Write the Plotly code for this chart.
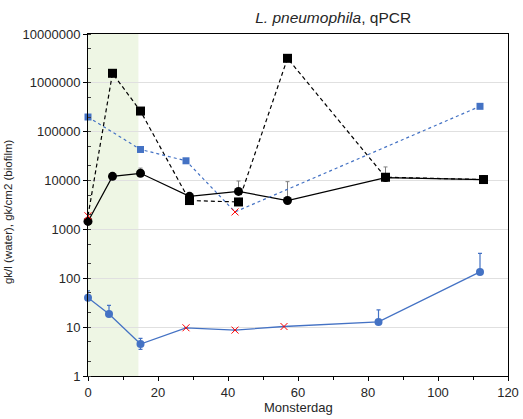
import plotly.graph_objects as go

# ---- data ----
# black solid (circles)
days_bk_c = [0, 7, 15, 29, 43, 57, 85, 113]
vals_bk_c = [1460, 12200, 14100, 4760, 6000, 3900, 11500, 10500]
err_bk_c = [0, 0, 3900, 0, 3800, 5600, 7500, 0]
# black dashed (squares)
days_bk_s = [0, 7, 15, 29, 43, 57, 85, 113]
vals_bk_s = [1900, 1570000, 265000, 3900, 3650, 3180000, 11700, 10500]
below_bk_s = [True, False, False, False, False, False, False, False]
# blue dashed (squares)
days_bl_s = [0, 15, 28, 42, 112]
vals_bl_s = [200000, 43300, 25400, 2280, 331000]
below_bl_s = [False, False, False, True, False]
# blue solid (circles)
days_bl_c = [0, 6, 15, 28, 42, 56, 83, 112]
vals_bl_c = [40, 18.5, 4.5, 9.7, 8.7, 10.3, 12.8, 135]
err_bl_c_up = [15.6, 9.5, 1.4, 0, 0, 0, 9.8, 190]
err_bl_c_dn = [0, 0, 1.0, 0, 0, 0, 0, 0]
below_bl_c = [False, False, False, True, True, True, False, False]

x_ticks = [0, 20, 40, 60, 80, 100, 120]
y_ticks = [1, 10, 100, 1000, 10000, 100000, 1000000, 10000000]
shade_range = [0, 14.4]

BLUE = "#4472C4"
RED = "#FF0000"
FONT = "Liberation Sans"


def opac(flags):
    return [0 if f else 1 for f in flags]


def pick(xs, ys, flags):
    return ([x for x, f in zip(xs, flags) if f], [y for y, f in zip(ys, flags) if f])


fig = go.Figure()

fig.add_trace(go.Scatter(
    x=days_bk_c, y=vals_bk_c, mode="lines+markers",
    line=dict(color="black", width=1.2),
    marker=dict(symbol="circle", size=9, color="black", line=dict(width=0)),
    error_y=dict(type="data", array=err_bk_c, arrayminus=[0] * len(err_bk_c),
                 symmetric=False, color="#808080", thickness=1, width=2),
    cliponaxis=False, showlegend=False))

fig.add_trace(go.Scatter(
    x=days_bk_s, y=vals_bk_s, mode="lines+markers",
    line=dict(color="black", width=1.2, dash="4px,3px"),
    marker=dict(symbol="square", size=9, color="black", opacity=opac(below_bk_s),
                line=dict(width=0)),
    cliponaxis=False, showlegend=False))

fig.add_trace(go.Scatter(
    x=days_bl_s, y=vals_bl_s, mode="lines+markers",
    line=dict(color=BLUE, width=1.2, dash="3px,3px"),
    marker=dict(symbol="square", size=7, color=BLUE, opacity=opac(below_bl_s),
                line=dict(width=0)),
    cliponaxis=False, showlegend=False))

fig.add_trace(go.Scatter(
    x=days_bl_c, y=vals_bl_c, mode="lines+markers",
    line=dict(color=BLUE, width=1.3),
    marker=dict(symbol="circle", size=8, color=BLUE, opacity=opac(below_bl_c),
                line=dict(width=0)),
    error_y=dict(type="data", array=err_bl_c_up, arrayminus=err_bl_c_dn,
                 symmetric=False, color=BLUE, thickness=1.2, width=2),
    cliponaxis=False, showlegend=False))

# red x markers for values below the detection limit
for xs, ys, fl in [(days_bk_s, vals_bk_s, below_bk_s),
                   (days_bl_s, vals_bl_s, below_bl_s),
                   (days_bl_c, vals_bl_c, below_bl_c)]:
    bx, by = pick(xs, ys, fl)
    fig.add_trace(go.Scatter(
        x=bx, y=by, mode="markers",
        marker=dict(symbol="x-thin-open", size=7, color=RED, line=dict(color=RED, width=1)),
        cliponaxis=False, showlegend=False))

fig.add_shape(type="rect", xref="x", yref="paper",
              x0=shade_range[0], x1=shade_range[1], y0=0, y1=1,
              fillcolor="#EEF6E4", line=dict(width=0), layer="below")

fig.update_layout(
    width=523, height=419,
    margin=dict(l=88, r=15, t=34, b=43, autoexpand=False),
    paper_bgcolor="white", plot_bgcolor="white",
    font=dict(family=FONT, size=13, color="#262626"),
    title=dict(text="<i>L. pneumophila</i>, qPCR", x=0.637, xanchor="center",
               y=0.959, yanchor="middle", font=dict(size=15.5, family=FONT, color="#262626")),
    annotations=[
        dict(text="gk/l (water), gk/cm2 (biofilm)", textangle=-90,
             xref="paper", yref="paper", x=-0.19, y=0.48, xanchor="center", yanchor="middle",
             showarrow=False, font=dict(size=11.5, family=FONT, color="#262626")),
        dict(text="Monsterdag", xref="paper", yref="paper", x=0.5, y=-0.092,
             xanchor="center", yanchor="middle", showarrow=False,
             font=dict(size=13, family=FONT, color="#262626")),
    ],
)

fig.update_xaxes(
    range=[0, 120], tickvals=x_ticks, ticktext=[str(v) for v in x_ticks],
    showline=True, linecolor="black", linewidth=1, mirror=True,
    ticks="outside", ticklen=4, tickcolor="black",
    minor=dict(dtick=10, ticks="outside", ticklen=3, tickcolor="black"),
    showgrid=False, zeroline=False, automargin=False,
    tickfont=dict(size=13),
)

fig.update_yaxes(
    type="log", range=[0, 7],
    tickvals=y_ticks, ticktext=[str(v) for v in y_ticks],
    showline=True, linecolor="black", linewidth=1, mirror=True,
    ticks="outside", ticklen=4, tickcolor="black",
    minor=dict(ticks="inside", ticklen=3, tickcolor="#404040", showgrid=False),
    showgrid=True, gridcolor="#E0E0E0", gridwidth=1,
    zeroline=False, automargin=False,
    tickfont=dict(size=13),
)

fig.write_html("out.html")
